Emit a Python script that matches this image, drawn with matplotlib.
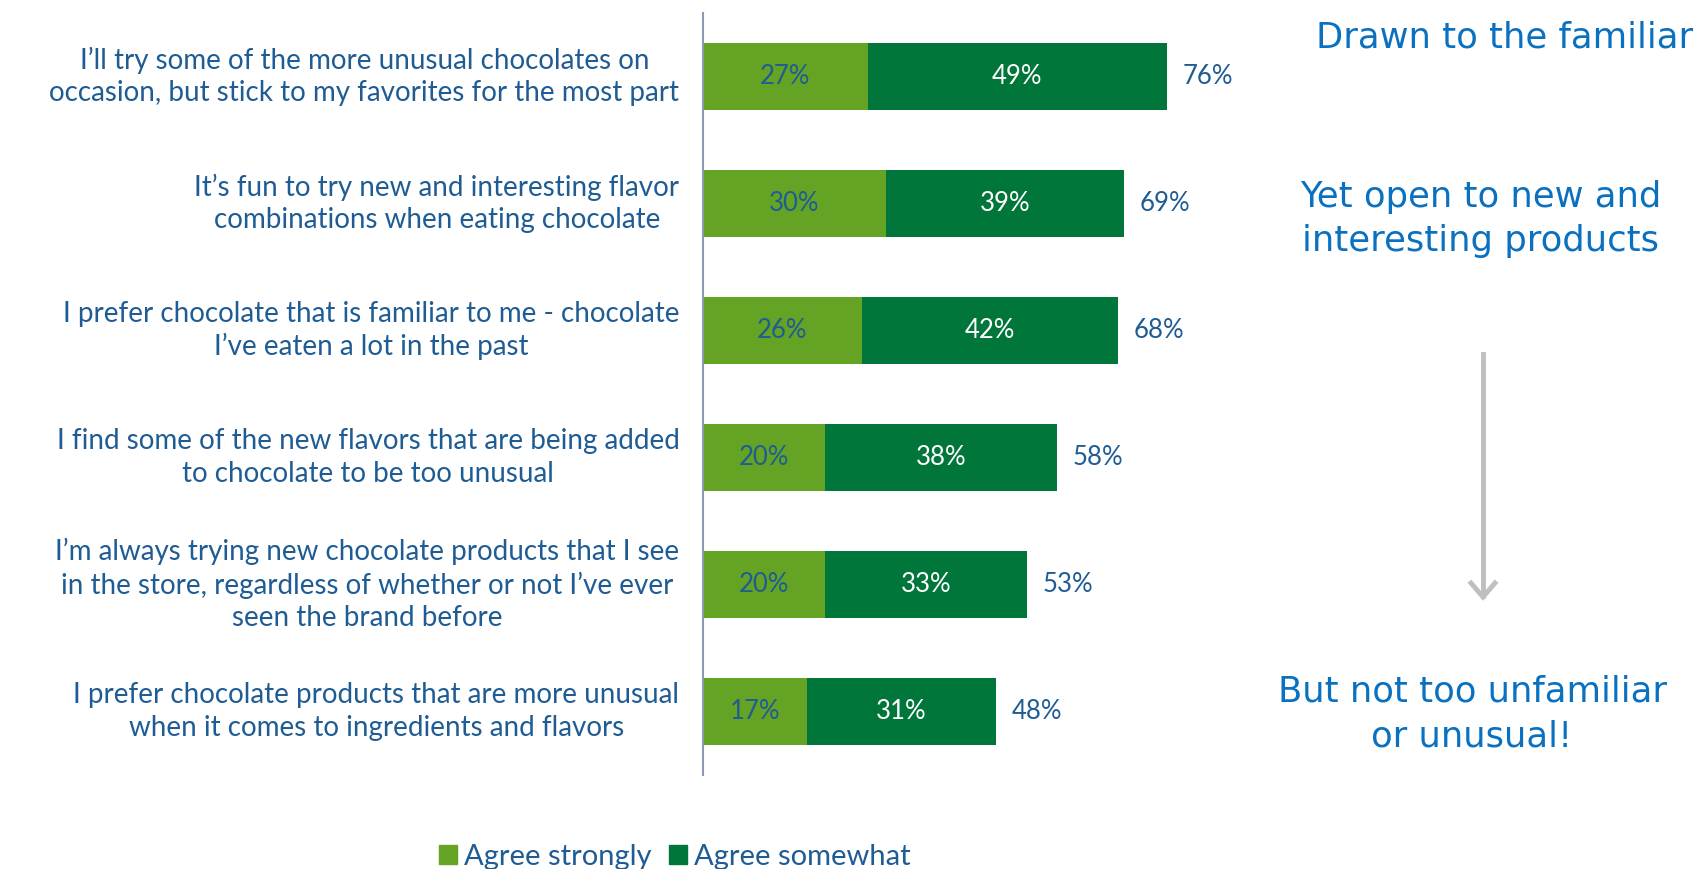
import matplotlib.pyplot as plt
from matplotlib.patches import Patch

# survey statements, top to bottom
statements = [
    "I\u2019ll try some of the more unusual chocolates on\noccasion, but stick to my favorites for the most part",
    "It\u2019s fun to try new and interesting flavor\ncombinations when eating chocolate",
    "I prefer chocolate that is familiar to me - chocolate\nI\u2019ve eaten a lot in the past",
    "I find some of the new flavors that are being added\nto chocolate to be too unusual",
    "I\u2019m always trying new chocolate products that I see\nin the store, regardless of whether or not I\u2019ve ever\nseen the brand before",
    "I prefer chocolate products that are more unusual\nwhen it comes to ingredients and flavors",
]
agree_strongly = [27, 30, 26, 20, 20, 17]
agree_somewhat = [49, 39, 42, 38, 33, 31]
series_names = ["Agree strongly", "Agree somewhat"]

LIGHT_GREEN = "#65a324"
DARK_GREEN = "#00763a"
TEXT_BLUE = "#1f5c94"
NOTE_BLUE = "#0a70c0"

plt.rcParams["font.family"] = ["Lato", "DejaVu Sans"]

fig = plt.figure(figsize=(16.98, 8.69), dpi=100)
ax = fig.add_axes([703 / 1698, 94 / 869, 610.5 / 1698, 762 / 869])

ypos = list(range(len(statements)))
totals = [a + b for a, b in zip(agree_strongly, agree_somewhat)]

ax.barh(ypos, agree_strongly, height=0.53, color=LIGHT_GREEN, label=series_names[0])
ax.barh(ypos, agree_somewhat, left=agree_strongly, height=0.53, color=DARK_GREEN,
        label=series_names[1])

for y, s, w, t in zip(ypos, agree_strongly, agree_somewhat, totals):
    ax.text(s / 2, y, f"{s}%", ha="center", va="center", fontsize=18.5, color=TEXT_BLUE)
    ax.text(s + w / 2, y, f"{w}%", ha="center", va="center", fontsize=18.5, color="white")
    ax.text(t + 2.6, y, f"{t}%", ha="left", va="center", fontsize=18.5, color=TEXT_BLUE)

ax.set_xlim(0, 100)
ax.set_ylim(5.5, -0.5)
ax.set_xticks([])
ax.set_yticks(ypos)
ax.set_yticklabels(statements, fontsize=20, color=TEXT_BLUE, multialignment="center",
                   linespacing=1.3, va="center")
ax.tick_params(axis="y", length=0, pad=17)
for side in ["top", "right", "bottom"]:
    ax.spines[side].set_visible(False)
ax.spines["left"].set_color("#8c9bb5")
ax.spines["left"].set_linewidth(1.5)

# callouts on the right
note_font = dict(family="DejaVu Sans", fontsize=25.5, color=NOTE_BLUE, ha="center",
                 va="center", linespacing=1.4)
fig.text(1505 / 1698, 1 - 38 / 869, "Drawn to the familiar", **note_font)
fig.text(1481 / 1698, 1 - 219 / 869, "Yet open to new and\ninteresting products", **note_font)
fig.text(1472 / 1698, 1 - 714 / 869, "But not too unfamiliar\nor unusual!", **note_font)
fig.add_artist(plt.Line2D([1483 / 1698, 1483 / 1698], [1 - 354 / 869, 1 - 596 / 869],
                          color="#bfbfbf", lw=3.5))
fig.add_artist(plt.Line2D([1471 / 1698, 1483 / 1698, 1495 / 1698],
                          [1 - 583 / 869, 1 - 597 / 869, 1 - 583 / 869],
                          color="#bfbfbf", lw=3.5, solid_joinstyle="miter"))

handles = [Patch(color=LIGHT_GREEN), Patch(color=DARK_GREEN)]
leg = fig.legend(handles, series_names, loc="center", bbox_to_anchor=(675 / 1698, 1 - 857 / 869),
                 ncol=2, frameon=False, fontsize=21, handlelength=0.6, handleheight=0.6,
                 handletextpad=0.25, columnspacing=0.6)
for txt in leg.get_texts():
    txt.set_color(TEXT_BLUE)

fig.savefig("out.png", dpi=100)
